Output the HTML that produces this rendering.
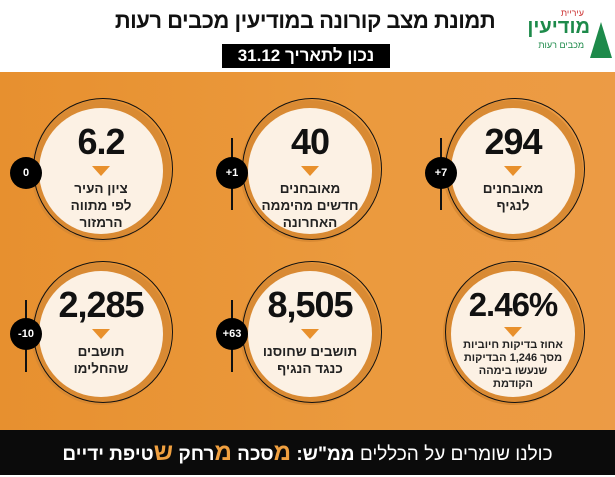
<!DOCTYPE html>
<html><head><meta charset="utf-8">
<style>
*{margin:0;padding:0;box-sizing:border-box}
body{width:615px;height:475px;overflow:hidden;font-family:"Liberation Sans","Noto Sans CJK SC",sans-serif;background:#fff;position:relative}
.hdr{position:absolute;left:0;top:0;width:615px;height:72px;background:#fff}
.title{position:absolute;left:90px;width:430px;top:8px;text-align:center;font-weight:bold;font-size:22px;color:#111;direction:rtl;white-space:nowrap;letter-spacing:-0.5px}
.date{position:absolute;left:222px;top:44px;width:168px;height:24px;background:#000;color:#fff;font-weight:bold;font-size:17px;text-align:center;line-height:24px;direction:rtl;white-space:nowrap}
.org{position:absolute;left:0;top:72px;width:615px;height:358px;background:linear-gradient(90deg,#e7902f,#eb9a3e 60%,#ec9b45)}
.ftr{position:absolute;left:0;top:430px;width:615px;height:45px;background:#0b0b0b;color:#fff;font-size:19px;text-align:center;line-height:45px;direction:rtl;white-space:nowrap}
.ftr b{color:#fff}.ftr .o{color:#f0a040;font-size:24px;font-weight:bold}
.c{position:absolute;width:140px;height:142px}
.c .ring{position:absolute;left:0;top:0;width:140px;height:142px;border-radius:50%;background:#d98a33}
.c .out{position:absolute;left:2px;top:-2px;width:140px;height:142px;border-radius:50%;border:1.5px solid #111}
.c .in{position:absolute;left:8px;top:8px;width:124px;height:126px;border-radius:50%;background:#fcf1e4;text-align:center;direction:rtl}
.n{font-weight:bold;font-size:36px;color:#111;margin-top:14px;line-height:40px;letter-spacing:-1px;direction:ltr}
.tri{width:0;height:0;margin:4px auto 4px;border-left:9px solid transparent;border-right:9px solid transparent;border-top:10px solid #e8902c}
.l{font-weight:bold;font-size:13.5px;line-height:17px;color:#222}
.l.s{font-size:11px;line-height:13px}
.b{position:absolute;width:32px;height:32px;border-radius:50%;background:#000;color:#fff;font-size:11px;font-weight:bold;text-align:center;line-height:32px;direction:ltr}
.ar{position:absolute;width:2px;background:#111}
</style></head><body>
<div class="hdr">
<div class="title">תמונת מצב קורונה במודיעין מכבים רעות</div>
<div class="date">נכון לתאריך 31.12</div>
<div style="position:absolute;left:532px;top:8px;width:80px;height:60px;direction:rtl;text-align:right">
<div style="font-size:9px;color:#c33;position:absolute;right:28px;top:0">עיריית</div>
<div style="font-size:20px;color:#1d8a4a;font-weight:bold;position:absolute;right:22px;top:8px">מודיעין</div>
<div style="font-size:9px;color:#1d8a4a;position:absolute;right:28px;top:32px">מכבים רעות</div>
<div style="position:absolute;right:0;top:14px;width:0;height:0;border-left:11px solid transparent;border-right:11px solid transparent;border-bottom:36px solid #1d8a4a"></div>
</div>
</div>
<div class="org"></div>

<div class="c" style="left:31px;top:100px"><div class="ring"></div><div class="out"></div><div class="in"><div class="n">6.2</div><div class="tri"></div><div class="l">ציון העיר<br>לפי מתווה<br>הרמזור</div></div></div>
<div class="c" style="left:240px;top:100px"><div class="ring"></div><div class="out"></div><div class="in"><div class="n">40</div><div class="tri"></div><div class="l">מאובחנים<br>חדשים מהיממה<br>האחרונה</div></div></div>
<div class="c" style="left:443px;top:100px"><div class="ring"></div><div class="out"></div><div class="in"><div class="n">294</div><div class="tri"></div><div class="l">מאובחנים<br>לנגיף</div></div></div>

<div class="c" style="left:31px;top:263px"><div class="ring"></div><div class="out"></div><div class="in"><div class="n">2,285</div><div class="tri"></div><div class="l">תושבים<br>שהחלימו</div></div></div>
<div class="c" style="left:240px;top:263px"><div class="ring"></div><div class="out"></div><div class="in"><div class="n">8,505</div><div class="tri"></div><div class="l">תושבים שחוסנו<br>כנגד הנגיף</div></div></div>
<div class="c" style="left:443px;top:263px"><div class="ring"></div><div class="out"></div><div class="in"><div class="n" style="font-size:33px">2.46%</div><div class="tri" style="margin:2px auto 2px"></div><div class="l s">אחוז בדיקות חיוביות<br>מסך 1,246 הבדיקות<br>שנעשו בימהה<br>הקודמת</div></div></div>

<div class="ar" style="left:231px;top:138px;height:72px"></div>
<div class="ar" style="left:440px;top:138px;height:72px"></div>
<div class="ar" style="left:231px;top:300px;height:72px"></div>
<div class="ar" style="left:25px;top:300px;height:72px"></div>
<div class="b" style="left:10px;top:157px">0</div>
<div class="b" style="left:216px;top:157px">+1</div>
<div class="b" style="left:425px;top:157px">+7</div>
<div class="b" style="left:10px;top:318px">-10</div>
<div class="b" style="left:216px;top:318px">+63</div>

<div class="ftr">כולנו שומרים על הכללים <b>ממ"ש:</b> <span class="o">מ</span><b>סכה</b> <span class="o">מ</span><b>רחק</b> <span class="o">ש</span><b>טיפת ידיים</b></div>
</body></html>
